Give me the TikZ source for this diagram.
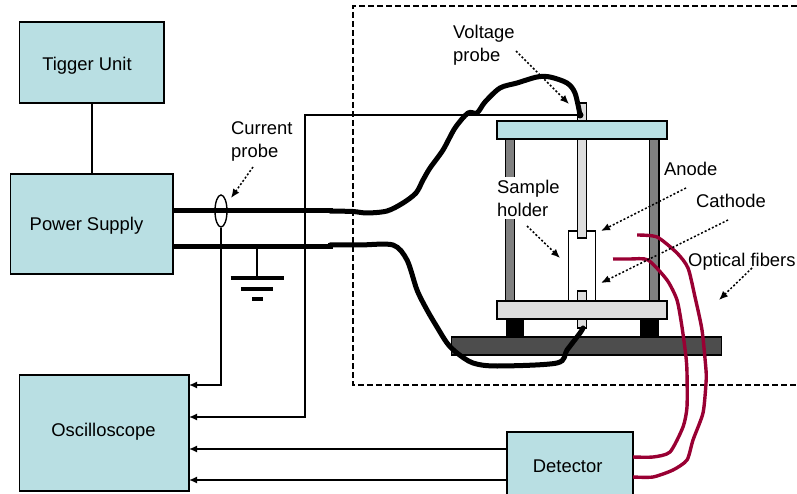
\documentclass[tikz,border=0pt]{standalone}
\usepackage{fontspec}
\setmainfont{Liberation Sans}
\usepackage{xcolor}
\usetikzlibrary{shapes}
\usetikzlibrary{arrows.meta}
\definecolor{boxblue}{HTML}{B9DFE3}
\definecolor{partgray}{HTML}{DDDDDD}
\definecolor{postgray}{HTML}{808080}
\definecolor{basegray}{HTML}{4D4D4D}
\definecolor{fiberred}{HTML}{990033}
\tikzset{
  unit/.style={draw,fill=boxblue,line width=1.4pt,inner sep=0pt,outer sep=0pt},
  caption/.style={anchor=west,align=left,inner sep=0pt,font=\fontsize{18.4}{23}\selectfont},
  unittext/.style={caption,anchor=center},
  part/.style={draw,line width=1.4pt},
  signal/.style={line width=1.5pt},
  signalarrow/.style={line width=1.5pt,-{Latex[length=8pt,width=7pt]}},
  leader/.style={line width=1.5pt,dash pattern=on 2pt off 2pt,-{Latex[length=9pt,width=7.5pt]}},
  heavywire/.style={line width=5pt},
  wire/.style={line width=5pt,line cap=round,line join=round},
  fiber/.style={color=fiberred,line width=3.4pt,line join=round}
}
\begin{document}
\begin{tikzpicture}[x=1pt,y=-1pt]
  \useasboundingbox (0,0) rectangle (797,494);
  \draw[line width=1.8pt,dash pattern=on 6pt off 3pt] (797,6) -- (353,6) -- (353,385) -- (797,385);
  \draw[part,fill=postgray] (505.7,139) rectangle (514.7,301);
  \draw[part,fill=postgray] (649.5,139) rectangle (659,301);
  \draw[part,fill=partgray] (577.7,103) rectangle (586.7,121);
  \draw[part,fill=white] (568.7,231) rectangle (595.3,301);
  \draw[part,fill=partgray] (577.7,139) rectangle (586.7,238);
  \draw[part,fill=partgray] (577.7,291) rectangle (586.7,301);
  \draw[part,fill=partgray] (577.7,319) rectangle (586.7,328);
  \draw[part,fill=boxblue] (497,121) rectangle (667,139);
  \draw[part,fill=partgray] (497,301) rectangle (667,319);
  \fill (505.7,319) rectangle (524,337);
  \fill (640,319) rectangle (659,337);
  \draw[part,fill=basegray] (451.7,337) rectangle (721.7,355);
  \node[unit,minimum width=144.5pt,minimum height=81pt] (tigger) at (91.75,62.5) {};
  \node[unit,minimum width=162.5pt,minimum height=100pt] (supply) at (91.75,224) {};
  \node[unit,minimum width=169.5pt,minimum height=116pt] (scope) at (104.25,433) {};
  \node[unit,minimum width=126pt,minimum height=66pt] (detector) at (570,465) {};
  \node[unittext] (tiggertext) at (87,66) {Tigger Unit};
  \node[unittext] (supplytext) at (86.5,226) {Power Supply};
  \node[unittext] (scopetext) at (103.5,432) {Oscilloscope};
  \node[unittext] (detectortext) at (567.7,466) {Detector};
  \node[draw,ellipse,line width=1.4pt,inner sep=0pt,minimum width=12pt,minimum height=32pt] (cprobe) at (221,211) {};
  \coordinate (topdot) at (580,115);
  \coordinate (anodeend) at (583,328);
  \coordinate (supplyhigh) at (supply.east |- cprobe);
  \coordinate (supplylow) at (173,247);
  \coordinate (groundtop) at (257,247);
  \coordinate (groundbar) at (257,278);
  \coordinate (turn) at (305,417);
  \draw[signal] (tigger.south) -- (supply.north);
  \draw[heavywire] (supplyhigh) -- (333,211);
  \draw[heavywire] (supplylow) -- (333,247);
  \draw[wire] plot[smooth,tension=0.5] coordinates {(330,211) (353,211.5) (367,213) (387,211) (403,203) (416,193) (423,180) (430,168) (443,150) (455,128) (468,113) (477,113) (485,102) (500,88) (517,83) (537,77) (550,77) (567,83) (575,93) (topdot)};
  \draw[wire] plot[smooth,tension=0.5] coordinates {(330,245) (360,245) (393,245) (407,260) (417,290) (427,310) (437,327) (447,343) (457,353) (473,363) (497,366) (557,363) (567,350) (580,333) (anodeend)};
  \fill (topdot) circle (3.5pt);
  \draw[signalarrow] (cprobe.south) |- (scope.east |- 0,385);
  \draw[signalarrow] (topdot) -| (turn) -- (scope.east |- turn);
  \draw[signalarrow] (detector.west |- 0,449) -- (scope.east |- 0,449);
  \draw[signalarrow] (detector.west |- 0,480) -- (scope.east |- 0,480);
  \draw[line width=2pt] (groundtop) -- (groundbar);
  \draw[line width=4pt] (230.7,278) -- (284,278);
  \draw[line width=4pt] (241,289) -- (273,289);
  \draw[line width=4pt] (252,299) -- (263,299);
  \draw[fiber] plot[smooth,tension=0.4] coordinates {(613,259) (630,259) (648,260) (667,280) (677,300) (682,327) (686,357) (687,373) (687,407) (683,427) (670,452) (653,457) (detector.east |- 0,457)};
  \draw[fiber] plot[smooth,tension=0.4] coordinates {(637,235) (657,237) (677,253) (688,268) (695,297) (702,330) (706,370) (706,383) (703,413) (693,440) (687,460) (673,470) (653,477) (detector.east |- 0,477)};
  \node[caption,fill=white,inner ysep=2.5pt] (holdertext) at (497,198) {Sample\\holder};
  \node[caption] (voltagetext) at (453,45) {Voltage\\probe};
  \node[caption] (currenttext) at (231,141) {Current\\probe};
  \node[caption] (anodetext) at (664,169) {Anode};
  \node[caption] (cathodetext) at (696,201) {Cathode};
  \node[caption] (fibertext) at (688,262) {Optical fibers};
  \draw[leader] (516,51) -- (569,104);
  \draw[leader] (253,167) -- (231,198);
  \draw[leader] (527,226) -- (560,258);
  \draw[leader] (686,188) -- (601,231);
  \draw[leader] (728,220) -- (601,283);
  \draw[leader] (752,268) -- (719,300);
\end{tikzpicture}
\end{document}
